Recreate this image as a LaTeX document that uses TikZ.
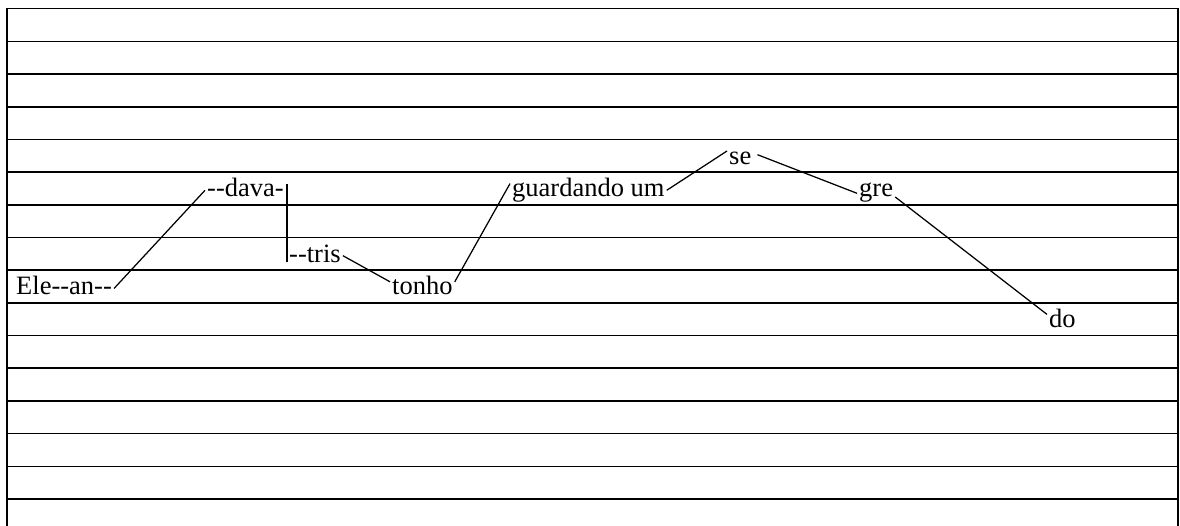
\documentclass[tikz,border=0pt]{standalone}
\usepackage{fontspec}
\setmainfont{Liberation Serif}
\usepackage{tikz}
\usetikzlibrary{positioning}
% two hyphens, kept apart so they do not turn into a dash
\newcommand{\twodash}{-\kern0pt-}

\begin{document}
\begin{tikzpicture}[x=1pt, y=-1pt,
    syl/.style={inner xsep=2pt, inner ysep=0pt, text height=13pt, text depth=0pt,
        anchor=base west, font=\fontsize{26.5}{30}\selectfont},
    link/.style={line width=1.25pt}]
    \useasboundingbox (0,0) rectangle (1180,526);
    % staff
    \draw[line width=1.6pt] (7,526) -- (7,8.7) -- (1178,8.7) -- (1178,526);
    \foreach \k in {1,2,...,15} {
        \draw[line width=1.6pt] (7,8.7+32.69*\k) -- (1178,8.7+32.69*\k);
    }

    \node[syl] (ele) at (14,295) {Ele\twodash an\twodash};
    \node[syl] (dava) at (205,196.8) {\twodash dava-};
    \node[syl] (tris) at (287,262.2) {\twodash tris};
    \node[syl] (tonho) at (390,295) {tonho};
    \node[syl] (guard) at (510,196.8) {guardando um};
    \node[syl] (se) at (727,164.2) {se};
    \node[syl] (gre) at (857,196.8) {gre};
    \node[syl] (do) at (1047,327.6) {do};

    \draw[link] (ele.east) -- (dava.west);
    \draw[link] (tris.south west) -- (tris.west |- dava.north);
    \draw[link] (tris.east) -- (tonho.north west);
    \draw[link] (tonho.north east) -- (guard.north west);
    \draw[link] (guard.east) -- (se.north west);
    \draw[link] ([xshift=4pt,yshift=3pt]se.east) -- ([yshift=-3pt]gre.west);
    \draw[link] (gre.south east) -- (do.north west);
\end{tikzpicture}
\end{document}
